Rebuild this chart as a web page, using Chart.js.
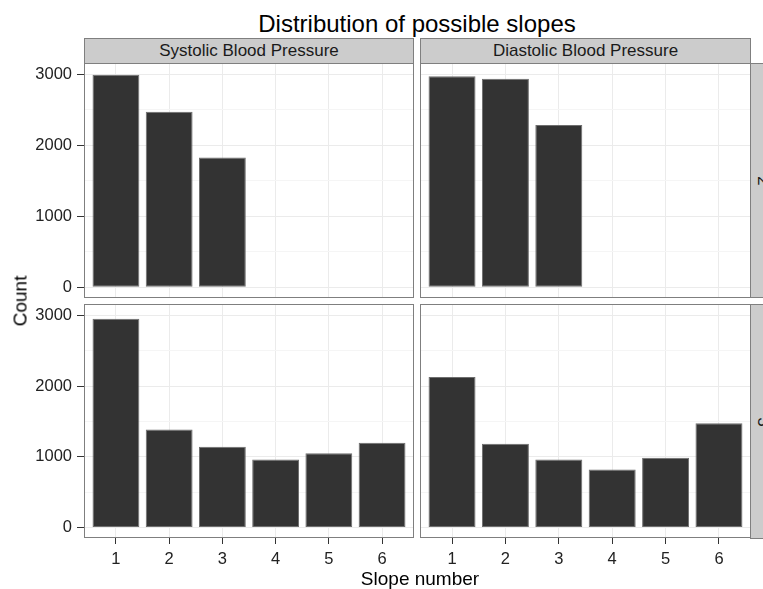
<!DOCTYPE html>
<html lang="en">
<head>
<meta charset="UTF-8">
<title>Distribution of possible slopes</title>
<script src="https://cdn.jsdelivr.net/npm/chart.js"></script>
<style>
  body { margin: 0; background: #fff; font-family: "Liberation Sans", Arial, sans-serif; }
  #wrap { position: relative; width: 763px; height: 589px; overflow: hidden; }
  canvas { position: absolute; }
  .strip {
    position: absolute; background: #cccccc; border: 1px solid #7f7f7f;
    box-sizing: border-box; color: #1a1a1a; font-size: 17px;
    display: flex; align-items: center; justify-content: center;
  }
  .txt { position: absolute; white-space: nowrap; color: #000; line-height: 1; }
</style>
</head>
<body>
<div id="wrap">
  <div class="txt" id="title" style="left:417px; top:24px; font-size:24px; transform:translate(-50%,-50%);">Distribution of possible slopes</div>

  <div class="strip" style="left:84px; top:38px; width:330px; height:26px;">Systolic Blood Pressure</div>
  <div class="strip" style="left:420px; top:38px; width:331px; height:26px;">Diastolic Blood Pressure</div>

  <div class="strip" style="left:750px; top:63px; width:26px; height:235px;"><span style="transform:rotate(90deg); display:inline-block;">2</span></div>
  <div class="strip" style="left:750px; top:304px; width:26px; height:235px;"><span style="transform:rotate(90deg); display:inline-block;">3</span></div>

  <canvas id="p1" width="414" height="235" style="left:0px; top:63px;"></canvas>
  <canvas id="p2" width="331" height="235" style="left:420px; top:63px;"></canvas>
  <canvas id="p3" width="414" height="265" style="left:0px; top:304px;"></canvas>
  <canvas id="p4" width="331" height="265" style="left:420px; top:304px;"></canvas>

  <div class="txt" style="left:20px; top:301px; font-size:19px; transform:translate(-50%,-50%) rotate(-90deg);">Count</div>
  <div class="txt" style="left:420px; top:578px; font-size:19px; transform:translate(-50%,-50%);">Slope number</div>
</div>

<script>
  // slope number categories and tick values
  const slopes = [1, 2, 3, 4, 5, 6];
  const yTicks = [0, 500, 1000, 1500, 2000, 2500, 3000];

  // counts, row "2" (only slopes 1-3)
  const systolic2 = [2995, 2472, 1830];
  const diastolic2 = [2972, 2939, 2288];
  // counts, row "3"
  const systolic3 = [2953, 1385, 1139, 961, 1050, 1196];
  const diastolic3 = [2128, 1182, 961, 820, 984, 1474];

  const FONT = "'Liberation Sans', Arial, sans-serif";

  const panelBorder = {
    id: "panelBorder",
    afterDraw(chart) {
      const a = chart.chartArea, c = chart.ctx;
      c.save();
      c.strokeStyle = "#7f7f7f";
      c.lineWidth = 1;
      c.strokeRect(a.left + 0.5, a.top + 0.5, a.width - 1, a.height - 1);
      c.restore();
    }
  };

  function panel(id, values, showY, showX) {
    new Chart(document.getElementById(id).getContext("2d"), {
      type: "bar",
      data: {
        datasets: [{
          data: values.map((v, i) => ({ x: slopes[i], y: v })),
          backgroundColor: "#333333",
          borderColor: "#6e6e6e",
          borderWidth: 1,
          borderSkipped: false,
          barPercentage: 0.88,
          categoryPercentage: 1
        }]
      },
      options: {
        responsive: false,
        animation: false,
        layout: { padding: 0 },
        plugins: { legend: { display: false }, tooltip: { enabled: false } },
        scales: {
          x: {
            type: "linear",
            min: 0.4,
            max: 6.6,
            offset: false,
            afterBuildTicks: s => { s.ticks = slopes.map(v => ({ value: v })); },
            afterFit: s => {
              s.height = showX ? 31 : 0;
              s.paddingLeft = 0; s.paddingRight = 0;
            },
            border: { display: false },
            grid: { offset: false, color: "#ebebeb", drawTicks: showX, tickLength: 6, tickColor: "#333" },
            ticks: { display: showX, padding: 6, color: "#222", font: { family: FONT, size: 16.5 }, callback: v => v }
          },
          y: {
            type: "linear",
            min: -150,
            max: 3160,
            afterBuildTicks: s => { s.ticks = yTicks.map(v => ({ value: v })); },
            afterFit: s => {
              s.width = showY ? 84 : 0;
              s.paddingTop = 0; s.paddingBottom = 0;
            },
            border: { display: false },
            grid: {
              color: c => (c.tick && c.tick.value % 1000) ? "#f5f5f5" : "#ebebeb",
              drawTicks: showY,
              tickLength: 7,
              tickColor: c => (c.tick && c.tick.value % 1000) ? "rgba(0,0,0,0)" : "#333"
            },
            ticks: {
              display: showY, padding: 5, color: "#222",
              font: { family: FONT, size: 16.5 },
              callback: v => (v % 1000 === 0 ? v : "")
            }
          }
        }
      },
      plugins: [panelBorder]
    });
  }

  panel("p1", systolic2, true, false);
  panel("p2", diastolic2, false, false);
  panel("p3", systolic3, true, true);
  panel("p4", diastolic3, false, true);
</script>
</body>
</html>
